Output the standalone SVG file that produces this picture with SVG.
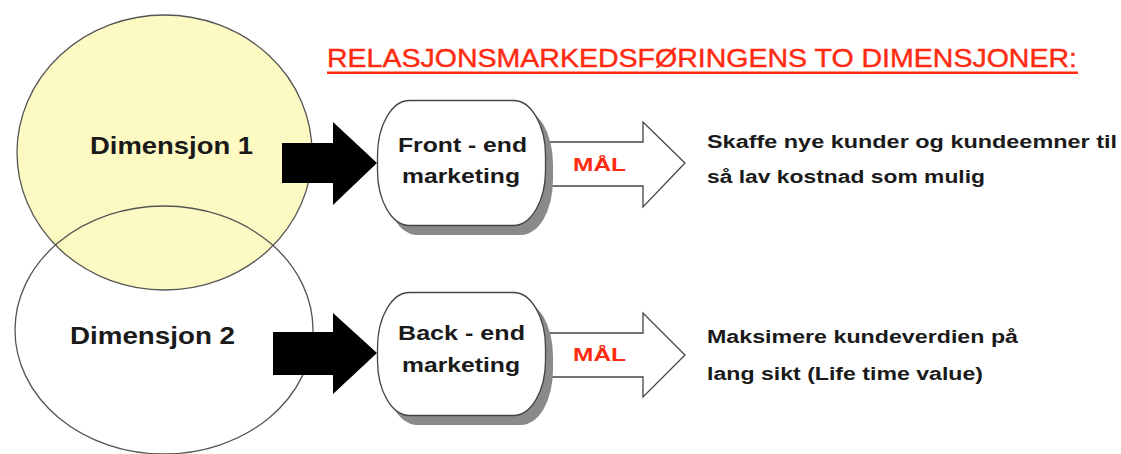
<svg xmlns="http://www.w3.org/2000/svg" width="1121" height="454" viewBox="0 0 1121 454">
<style>
.ell{stroke:#555;stroke-width:1.3}
.dim{font-family:"Liberation Sans",Arial,sans-serif;font-weight:bold;font-size:24px;fill:#1a1a1a}
.box{fill:#fff;stroke:#444;stroke-width:1.3}
.shadow{fill:#8a8a8a}
.lbl{font-family:"Liberation Sans",Arial,sans-serif;font-weight:bold;font-size:20px;fill:#1a1a1a;text-anchor:start}
.mal{font-family:"Liberation Sans",Arial,sans-serif;font-weight:bold;font-size:19px;fill:#ff2a10}
.desc{font-family:"Liberation Sans",Arial,sans-serif;font-weight:bold;font-size:18px;fill:#1a1a1a}
.title{font-family:"Liberation Sans",Arial,sans-serif;font-size:25px;fill:#ff2a10;stroke:#ff2a10;stroke-width:0.4}
.black{fill:#000}
.white{fill:#fff;stroke:#444;stroke-width:1.3}
</style>
<rect width="1121" height="454" fill="#fff"/>
<g id="title">
<text class="title" x="327" y="67" textLength="750" lengthAdjust="spacingAndGlyphs">RELASJONSMARKEDSFØRINGENS TO DIMENSJONER:</text>
<rect x="327" y="71.5" width="751" height="2.5" fill="#ff2a10"/>
</g>
<g id="dimensjon2-bg">
<ellipse cx="164" cy="330" rx="149" ry="124" fill="#fff"/>
</g>
<g id="dimensjon1">
<ellipse class="ell" cx="164.5" cy="152.5" rx="147.5" ry="137.5" fill="#fdf9c3"/>
<text class="dim" x="90" y="154" textLength="163" lengthAdjust="spacingAndGlyphs">Dimensjon 1</text>
</g>
<g id="dimensjon2">
<ellipse class="ell" cx="164" cy="330" rx="149" ry="124" fill="none"/>
<text class="dim" x="70" y="344" textLength="165" lengthAdjust="spacingAndGlyphs">Dimensjon 2</text>
</g>
<g id="connectors">
<polygon class="black" points="282,143 333,143 333,122 377,163 333,205 333,183 282,183"/>
<polygon class="black" points="273,332 333,332 333,313 377,353 333,394 333,375 273,375"/>
<polygon class="white" points="546,142 643,142 643,122 685,163 643,207 643,186 546,186"/>
<polygon class="white" points="546,333 643,333 643,313 685,355 643,397 643,377 546,377"/>
</g>
<g id="front-end">
<rect class="shadow" x="385" y="109" width="168" height="126" rx="32" ry="55"/>
<rect class="box" x="377.5" y="100.5" width="168" height="125" rx="32" ry="55"/>
<text class="lbl" x="398" y="152" textLength="129" lengthAdjust="spacingAndGlyphs">Front - end</text>
<text class="lbl" x="402" y="183" textLength="118" lengthAdjust="spacingAndGlyphs">marketing</text>
</g>
<g id="back-end">
<rect class="shadow" x="385" y="301" width="168" height="124" rx="32" ry="55"/>
<rect class="box" x="377.5" y="292.5" width="168" height="123" rx="32" ry="55"/>
<text class="lbl" x="398" y="340" textLength="127" lengthAdjust="spacingAndGlyphs">Back - end</text>
<text class="lbl" x="402" y="372" textLength="118" lengthAdjust="spacingAndGlyphs">marketing</text>
</g>
<g id="mal1">
<text class="mal" x="573" y="171" textLength="53" lengthAdjust="spacingAndGlyphs">MÅL</text>
</g>
<g id="mal2">
<text class="mal" x="573" y="361" textLength="53" lengthAdjust="spacingAndGlyphs">MÅL</text>
</g>
<g id="goal1">
<text class="desc" x="707" y="148" textLength="410" lengthAdjust="spacingAndGlyphs">Skaffe nye kunder og kundeemner til</text>
<text class="desc" x="707" y="183" textLength="278" lengthAdjust="spacingAndGlyphs">så lav kostnad som mulig</text>
</g>
<g id="goal2">
<text class="desc" x="707" y="343" textLength="311" lengthAdjust="spacingAndGlyphs">Maksimere kundeverdien på</text>
<text class="desc" x="707" y="380" textLength="276" lengthAdjust="spacingAndGlyphs">lang sikt (Life time value)</text>
</g>
</svg>
